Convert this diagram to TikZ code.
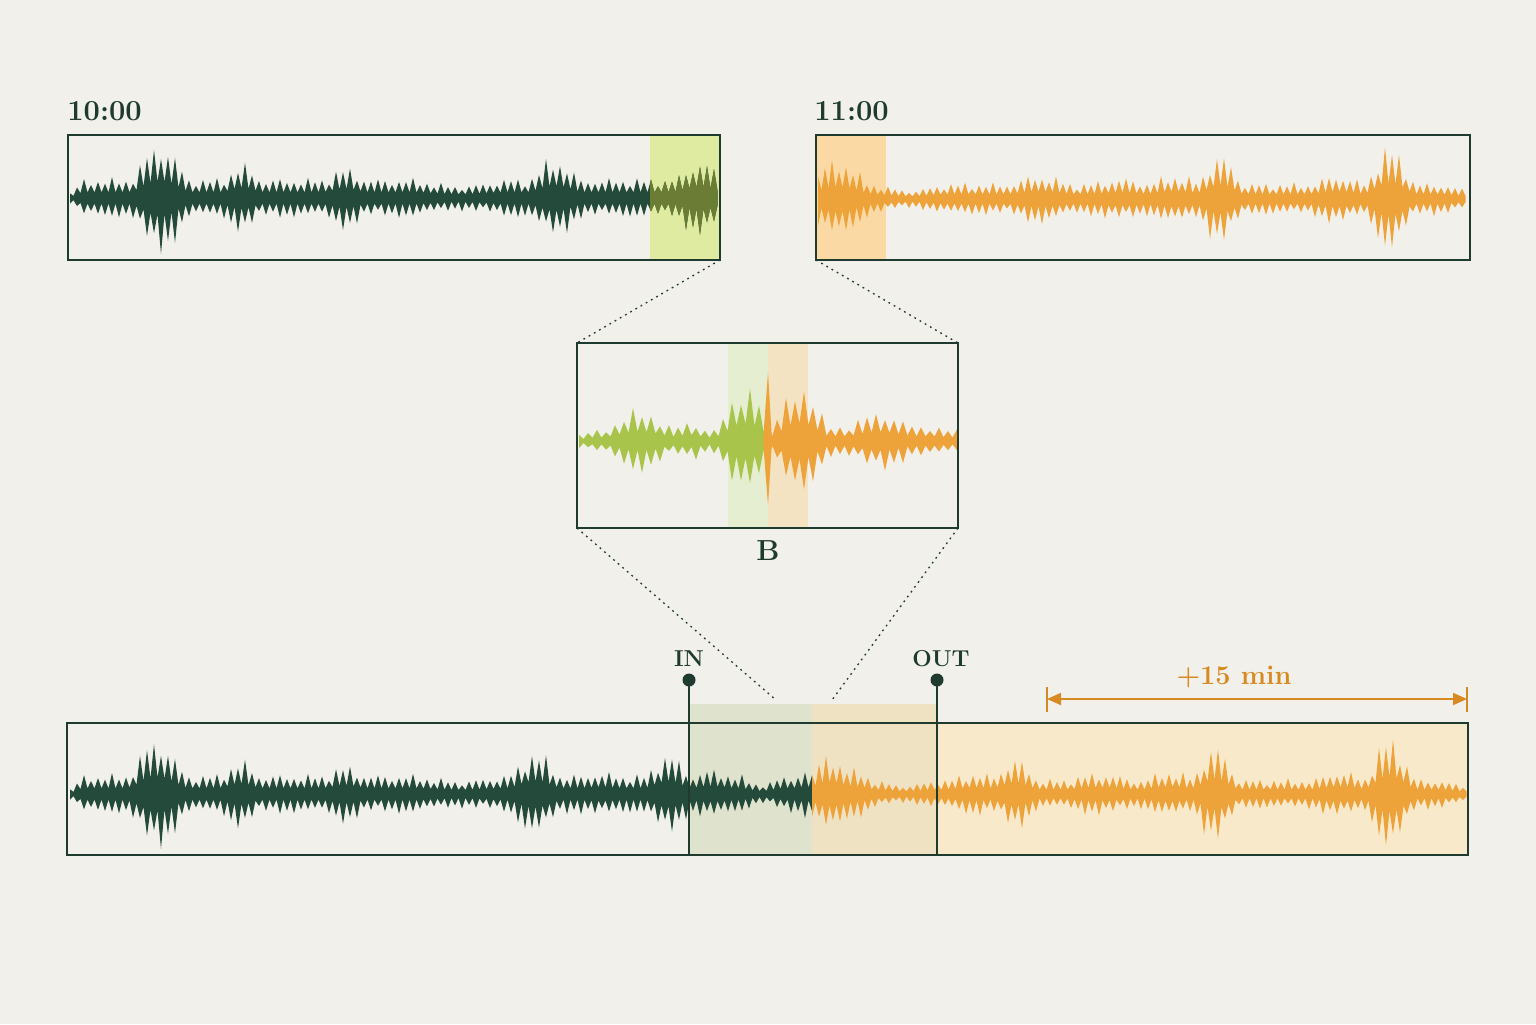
\documentclass[tikz,border=0pt]{standalone}
\usetikzlibrary{arrows.meta}
\definecolor{bg}{HTML}{F1F0EA}
\definecolor{dg}{HTML}{234A3A}
\definecolor{ln}{HTML}{1F3A2E}
\definecolor{og}{HTML}{EEA23A}
\definecolor{lm}{HTML}{A9C44A}
\definecolor{ol}{HTML}{6B7C34}
\definecolor{hlg}{HTML}{E0EBA2}
\definecolor{hlo}{HTML}{FAD9A4}
\definecolor{mbg}{HTML}{E6EED2}
\definecolor{mbo}{HTML}{F3E3C3}
\definecolor{rg}{HTML}{DFE2CC}
\definecolor{ro}{HTML}{EEE2C2}
\definecolor{rr}{HTML}{F8E9CB}
\definecolor{dim}{HTML}{D88A22}
\tikzset{declare function={
  sq(\t)=\t*\t;
  bp(\x,\c,\w)=sq(1-sq(min(abs(\x-\c)/\w,1)));
  vr(\k)=0.95+0.28*sin(67*\k)*cos(29*\k+10);
  vs(\k)=0.95+0.28*cos(53*\k+20)*sin(31*\k+40);
  pk(\k)=1-mod(round(\k),2);
  atl(\x)=17+33*bp(\x,160,32)+13*bp(\x,242,22)+10*bp(\x,345,24)-6*bp(\x,460,50)+19*bp(\x,555,28)+16*bp(\x,700,28)-12*bp(\x,70,14);
  atr(\x)=14+22*bp(\x,838,35)-6*bp(\x,910,40)+8*bp(\x,1040,35)+5*bp(\x,1120,35)+8*bp(\x,1175,30)+26*bp(\x,1220,26)+8*bp(\x,1338,30)+33*bp(\x,1390,28)-5*bp(\x,1468,30);
  amg(\x)=10+18*bp(\x,640,40)+8*bp(\x,690,20)+42*bp(\x,745,32)-4*bp(\x,582,12);
  amo(\x)=14+40*bp(\x,800,30)+13*bp(\x,880,35)-4*bp(\x,955,25);
  abg(\x)=17+33*bp(\x,157,32)+13*bp(\x,240,22)+8*bp(\x,345,24)-5*bp(\x,460,50)+21*bp(\x,535,28)+3*bp(\x,600,20)+20*bp(\x,668,24)+5*bp(\x,712,25)-8*bp(\x,762,25)+3*bp(\x,805,12)-12*bp(\x,70,14);
  abo(\x)=13+22*bp(\x,830,28)+8*bp(\x,858,18)-5*bp(\x,905,35)+6*bp(\x,975,30)+19*bp(\x,1015,26)+6*bp(\x,1100,40)+8*bp(\x,1170,30)+30*bp(\x,1215,26)+8*bp(\x,1340,30)+38*bp(\x,1390,28)-5*bp(\x,1466,30);
}}
\newcommand\mywv[6]{%
  \pgfmathtruncatemacro\wvn{#3+1}%
  \fill[#1] plot[domain=0:#3, samples=\wvn, variable=\k]
    ({#2+\k*#4},{#5-#6(#2+\k*#4)*(0.33+(vr(\k)-0.33)*pk(\k))})
    -- plot[domain=#3:0, samples=\wvn, variable=\k]
    ({#2+\k*#4},{#5+#6(#2+\k*#4)*(0.33+(vs(\k)-0.33)*pk(\k))}) -- cycle;}
\begin{document}
\begin{tikzpicture}[x=0.5pt,y=-0.5pt,
  box/.style={draw=ln, line width=0.8pt},
  dotc/.style={draw=ln, line width=0.65pt, dash pattern=on 0.9pt off 2.1pt},
  lbl/.style={text=ln, font=\fontsize{14.5}{17}\selectfont\bfseries, inner sep=0pt},
  mk/.style={text=ln, font=\fontsize{11.5}{14}\selectfont\bfseries, inner sep=0pt},
  pin/.style={draw=ln, line width=0.8pt},
  dimline/.style={draw=dim, line width=0.9pt}]
\fill[bg] (0,0) rectangle (1536,1024);
\useasboundingbox (0,0) rectangle (1536,1024);

% ---------- top-left clip (10:00)
\coordinate (tlA) at (68,135);
\coordinate (tlB) at (720,260);
\fill[hlg] (650,135) rectangle (720,260);
\mywv{dg}{70}{185}{3.5}{198}{atl}
\begin{scope}
  \clip (650,135) rectangle (720,260);
  \mywv{ol}{70}{185}{3.5}{198}{atl}
\end{scope}
\draw[box] (tlA) rectangle (tlB);
\node[lbl, anchor=base west] (t10) at (67,120) {10:00};

% ---------- top-right clip (11:00)
\coordinate (trA) at (816,135);
\coordinate (trB) at (1470,260);
\coordinate (trBL) at (816,260);
\fill[hlo] (816,135) rectangle (886,260);
\mywv{og}{818}{185}{3.5}{199}{atr}
\draw[box] (trA) rectangle (trB);
\node[lbl, anchor=base west] (t11) at (814,120) {11:00};

% ---------- middle zoom (B)
\coordinate (mA) at (577,343);
\coordinate (mB) at (958,528);
\coordinate (mTR) at (958,343);
\coordinate (mBL) at (577,528);
\fill[mbg] (728,344) rectangle (768,527);
\fill[mbo] (768,344) rectangle (808,527);
\mywv{lm}{579}{42}{4.5}{441}{amg}
\mywv{og}{768}{42}{4.5}{441}{amo}
\fill[og] (763,441) -- (768,372) -- (772,441) -- (768,505) -- cycle;
\draw[box] (mA) rectangle (mB);
\node[lbl, anchor=base] (lB) at (768,560) {B};

% ---------- dotted zoom connectors
\coordinate (zl) at (776,700);
\coordinate (zr) at (832,700);
\draw[dotc] (tlB) -- (mA);
\draw[dotc] (trBL) -- (mTR);
\draw[dotc] (mBL) -- (zl);
\draw[dotc] (mB) -- (zr);

% ---------- bottom timeline
\fill[rg] (689,704) rectangle (812,855);
\fill[ro] (812,704) rectangle (937,855);
\fill[rr] (937,723) rectangle (1468,855);
\mywv{dg}{70}{212}{3.5}{794}{abg}
\mywv{og}{812}{187}{3.5}{794}{abo}
\draw[box] (67,723) rectangle (1468,855);

% IN / OUT markers
\node[circle, fill=ln, inner sep=0pt, minimum size=6.5pt] (pin1) at (689,680) {};
\node[circle, fill=ln, inner sep=0pt, minimum size=6.5pt] (pin2) at (937,680) {};
\coordinate (pin1b) at (689,855);
\coordinate (pin2b) at (937,855);
\draw[pin] (pin1.center) -- (pin1b);
\draw[pin] (pin2.center) -- (pin2b);
\node[mk, anchor=base] (lin) at (689,666) {IN};
\node[mk, anchor=base] (lout) at (941,666) {OUT};

% +15 min dimension
\coordinate (d1) at (1047,699);
\coordinate (d2) at (1467,699);
\draw[dimline] (1047,687) -- (1047,712);
\draw[dimline] (1467,687) -- (1467,712);
\draw[dimline, {Triangle[length=7pt,width=6pt]}-{Triangle[length=7pt,width=6pt]}] (d1) -- (d2);
\node[text=dim, font=\fontsize{13.5}{16}\selectfont\bfseries, anchor=base, inner sep=0pt] (l15) at (1234,684) {+15 min};
\end{tikzpicture}
\end{document}
